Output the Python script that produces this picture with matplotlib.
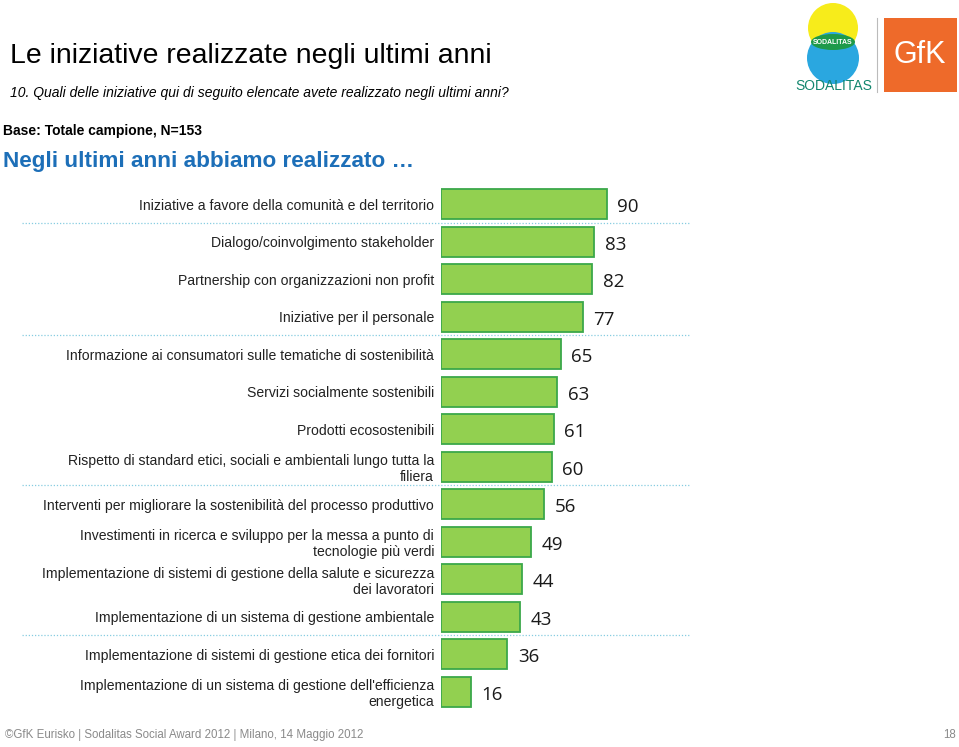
import matplotlib
matplotlib.use("Agg")
import matplotlib.pyplot as plt
import matplotlib.patches as mpatches
import matplotlib.transforms as mtransforms

categories = [
    "Iniziative a favore della comunità e del territorio",
    "Dialogo/coinvolgimento stakeholder",
    "Partnership con organizzazioni non profit",
    "Iniziative per il personale",
    "Informazione ai consumatori sulle tematiche di sostenibilità",
    "Servizi socialmente sostenibili",
    "Prodotti ecosostenibili",
    "Rispetto di standard etici, sociali e ambientali lungo tutta la\nfiliera",
    "Interventi per migliorare la sostenibilità del processo produttivo",
    "Investimenti in ricerca e sviluppo per la messa a punto di\ntecnologie più verdi",
    "Implementazione di sistemi di gestione della salute e sicurezza\ndei lavoratori",
    "Implementazione di un sistema di gestione ambientale",
    "Implementazione di sistemi di gestione etica dei fornitori",
    "Implementazione di un sistema di gestione dell'efficienza\nenergetica",
]
values = [90, 83, 82, 77, 65, 63, 61, 60, 56, 49, 44, 43, 36, 16]
separators_after = [0, 3, 7, 11]

W, H = 959, 747
fig = plt.figure(figsize=(W / 100, H / 100), dpi=100)
plt.rcParams['font.family'] = ['Liberation Sans', 'DejaVu Sans']

# overlay in pixel coordinates for the page decorations
bg = fig.add_axes([0, 0, 1, 1])
bg.set_xlim(0, W)
bg.set_ylim(H, 0)
bg.axis('off')

# bar chart
x0, top, bottom = 441, 185.25, 710.25
px_per_unit = 166 / 90
ax = fig.add_axes([x0 / W, 1 - bottom / H, 100 * px_per_unit / W, (bottom - top) / H])
ypos = list(range(len(values)))
ax.barh(ypos, values, height=0.8, color='#92D050', edgecolor='#3BA84A', linewidth=1.3)
ax.set_xlim(0, 100)
ax.set_ylim(len(values) - 0.5, -0.5)
ax.set_yticks(ypos)
ax.set_yticklabels(categories, fontsize=10.1, color='#222222')
ax.tick_params(axis='y', length=0, pad=5)
ax.set_xticks([])
for s in ax.spines.values():
    s.set_visible(False)
ax.patch.set_alpha(0)

for y, v in zip(ypos, values):
    ax.annotate(str(v), (v, y), xytext=(7.5, -2.5), textcoords='offset points',
                ha='left', va='center', fontsize=13.5, color='#1a1a1a',
                family=['Open Sans', 'DejaVu Sans'], annotation_clip=False)

# dotted separators between groups
tr = mtransforms.blended_transform_factory(bg.transData, ax.transData)
for i in separators_after:
    bg.plot([22, 690], [i + 0.5, i + 0.5], transform=tr, color='#86CCE0',
            linestyle=(0, (1, 1.5)), linewidth=0.9, clip_on=False)

# header texts
bg.text(10, 56, "Le iniziative realizzate negli ultimi anni", fontsize=20.4,
        va='center', ha='left', color='black')
bg.text(10, 93, "10. Quali delle iniziative qui di seguito elencate avete realizzato negli ultimi anni?",
        fontsize=10, style='italic', va='center', ha='left', color='black')
bg.text(3, 131, "Base: Totale campione, N=153", fontsize=10, weight='bold',
        va='center', ha='left', color='black')
bg.text(3, 162, "Negli ultimi anni abbiamo realizzato \u2026", fontsize=16.2, weight='bold',
        va='center', ha='left', color='#1D6FB8')

# footer
bg.text(5, 735, "\u00a9GfK Eurisko | Sodalitas Social Award 2012 | Milano, 14 Maggio 2012",
        fontsize=8.3, va='center', ha='left', color='#8a8a8a')
bg.text(956, 735, "18", fontsize=8.3, va='center', ha='right', color='#8a8a8a')

# Sodalitas logo
bg.add_patch(mpatches.Circle((833, 28), 25, color='#F7EC1B', lw=0))
bg.add_patch(mpatches.Circle((833, 58), 26, color='#2AA7E0', lw=0))
bg.add_patch(mpatches.Ellipse((833, 42), 44, 16, color='#1E9A4A', lw=0))
bg.text(833, 42, "SODALITAS", fontsize=5, color='white', ha='center', va='center', weight='bold')
bg.text(834, 86, "SODALITAS", fontsize=10, color='#12866E', ha='center', va='center')
bg.plot([877, 877], [18, 92], color='#bbbbbb', lw=0.8)

# GfK logo
bg.add_patch(mpatches.Rectangle((884, 18), 73, 74, color='#EE6A2A', lw=0))
bg.text(920, 55, "GfK", fontsize=22, color='white', ha='center', va='center')

fig.savefig("out.png", dpi=100)
